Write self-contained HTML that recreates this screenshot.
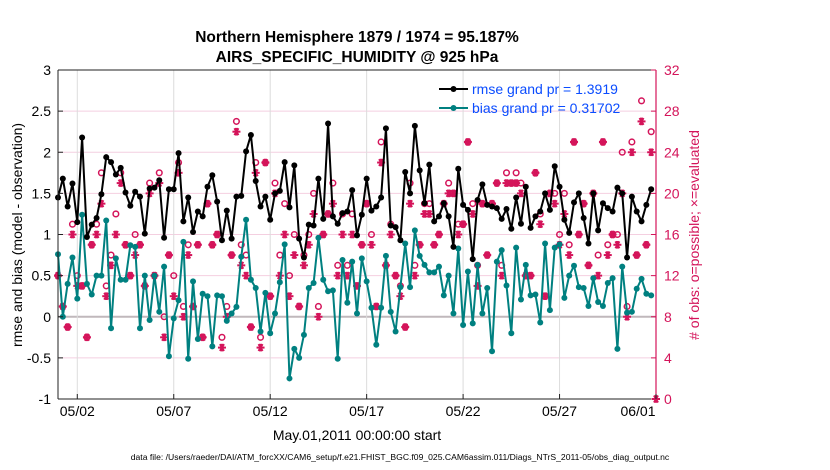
<!DOCTYPE html>
<html><head><meta charset="utf-8">
<style>
body{margin:0;background:#fff;}
svg{display:block;font-family:"Liberation Sans",Arial,sans-serif;}
</style></head>
<body>
<svg id="chart" width="830" height="470" viewBox="0 0 830 470" xmlns="http://www.w3.org/2000/svg">
<text x="357" y="42" text-anchor="middle" font-size="15.5" font-weight="bold">Northern Hemisphere 1879 / 1974 = 95.187%</text>
<text x="357" y="62" text-anchor="middle" font-size="15.5" font-weight="bold">AIRS_SPECIFIC_HUMIDITY @ 925 hPa</text>
<g id="grid"></g>
<g id="series"></g>
<g id="axes"></g>
<text transform="translate(22,235) rotate(-90)" text-anchor="middle" font-size="14">rmse and bias (model - observation)</text>
<text transform="translate(699,235) rotate(-90)" text-anchor="middle" font-size="14" fill="#d4145a"># of obs: o=possible; ×=evaluated</text>
<text x="357" y="440" text-anchor="middle" font-size="14">May.01,2011 00:00:00 start</text>
<text x="400" y="460" text-anchor="middle" font-size="8.6">data file: /Users/raeder/DAI/ATM_forcXX/CAM6_setup/f.e21.FHIST_BGC.f09_025.CAM6assim.011/Diags_NTrS_2011-05/obs_diag_output.nc</text>
<g>
<line x1="439" y1="89" x2="468" y2="89" stroke="#000" stroke-width="2"/>
<circle cx="453.5" cy="89" r="3" fill="#000"/>
<text x="472" y="94" font-size="14" fill="#0a4cff">rmse grand pr = 1.3919</text>
<line x1="439" y1="108" x2="468" y2="108" stroke="#008080" stroke-width="2"/>
<circle cx="453.5" cy="108" r="3" fill="#008080"/>
<text x="472" y="113" font-size="14" fill="#0a4cff">bias grand pr = 0.31702</text>
</g>
</svg>
<script>
const rmse=[1.45,1.68,1.34,1.62,1.15,2.18,0.97,1.12,1.2,1.49,1.94,1.88,1.73,1.81,1.51,1.35,1.52,1.46,1.01,1.56,1.57,1.66,0.96,1.55,1.55,1.99,1.16,1.45,1.03,1.28,1.22,1.58,
1.72,1.4,0.93,1.29,0.95,1.46,1.47,2.01,2.21,1.65,1.34,1.46,1.18,1.5,1.53,1.88,1.33,1.84,0.95,0.72,1.12,1.11,1.68,1.19,2.35,1.22,1.13,1.26,1.28,1.54,0.99,
1.24,1.68,1.29,1.34,1.45,2.29,1.11,1.09,0.93,1.76,1.5,2.32,1.78,1.38,1.85,1.16,1.22,1.38,1.22,0.85,1.8,1.36,1.3,0.7,1.42,1.61,1.36,1.34,1.32,1.19,1.31,
1.07,1.45,1.13,1.58,1.08,1.22,1.28,1.5,1.3,1.83,1.58,1.18,1.02,1.39,1.5,1.2,0.89,1.5,1.05,1.38,1.32,1.28,1.57,1.5,0.72,1.46,1.28,1.16,1.36,1.55];
const bias=[0.76,0,0.4,0.72,0.22,1.24,0.4,0.27,0.5,0.5,1.17,-0.14,0.71,0.45,0.45,0.87,0.85,-0.14,0.5,-0.04,0.5,0.06,0.61,-0.48,-0.02,0.2,0.91,-0.51,0.43,-0.27,0.28,0.25,
-0.36,0.26,0.25,-0.05,0.04,0.12,0.73,1.18,0.45,0.35,-0.18,0.29,-0.2,0.04,0.42,0.88,-0.75,-0.39,-0.5,-0.22,0.35,0.41,0.96,0.45,0.31,0.32,-0.51,0.69,0.17,0.67,0.04,
0.71,0.43,0.11,-0.34,0.11,0.74,0.06,-0.18,0.36,0.89,0.36,1.05,0.74,0.63,0.54,0.54,0.61,0.26,0.5,0.04,0.83,-0.1,0.55,-0.08,0.63,0.04,0.35,-0.42,0.67,0.81,0.38,
-0.2,0.84,0.21,0.63,0.26,0.27,-0.07,0.89,0.08,0.84,0.88,0.23,0.5,0.62,0.36,0.35,0.13,0.47,0.18,0.13,0.41,0.47,-0.39,0.61,0.05,0.06,0.34,0.46,0.28,0.26];
const evaluated=[12,9,7,16,11,11,6,15,16,19,10,13,16,21,15,12,14,15,11,20,12,21,6,14,10,22,8,14,9,15,6,19,
15,16,5,8,14,26,13,12,7,22,5,23,10,20,12,16,10,14,9,13,15,18,8,16,18,19,12,16,12,16,11,
15,19,15,9,23,13,16,12,10,7,19,12,15,18,18,15,16,19,20,20,16,17,25,18,11,19,14,19,21,12,21,
21,21,20,12,12,22,17,10,20,19,15,18,14,25,16,19,13,20,12,25,14,16,15,20,8,24,14,27,15,24];
const possible=[12,9,7,17,12,11,6,15,17,22,11,14,18,22,15,12,16,15,11,21,12,22,8,14,12,23,9,15,9,15,6,19,
15,16,6,9,14,27,15,14,7,23,6,23,10,21,14,19,12,16,9,14,16,20,9,16,18,21,13,18,13,18,11,
15,19,16,9,25,13,17,12,11,7,21,13,15,19,19,15,16,19,21,20,17,17,25,19,13,19,14,19,21,13,22,
21,22,21,12,12,22,18,10,20,20,16,20,15,25,16,19,13,20,14,25,15,16,16,24,9,25,14,29,15,26];
const leftTicks=[-1,-0.5,0,0.5,1,1.5,2,2.5,3];
const leftTickLabels=["-1","-0.5","0","0.5","1","1.5","2","2.5","3"];
const rightTicks=[0,4,8,12,16,20,24,28,32];
const xTickDays=[1,6,11,16,21,26,31];
const xTickLabels=["05/02","05/07","05/12","05/17","05/22","05/27","06/01"];
const stepDays=0.25;

const L=58,R=656,T=70,B=399;
const NS="http://www.w3.org/2000/svg";
const xs=d=>L+(d/31)*(R-L);
const yl=v=>B-(v+1)/4*(B-T);
const yr=c=>B-c/32*(B-T);
function mk(tag,attrs,parent){const e=document.createElementNS(NS,tag);for(const k in attrs)e.setAttribute(k,attrs[k]);parent.appendChild(e);return e;}
const grid=document.getElementById('grid'),ser=document.getElementById('series'),ax=document.getElementById('axes');
mk('rect',{x:L,y:T,width:R-L,height:B-T,fill:'#fff'},grid);
leftTicks.forEach(v=>{const g=mk('line',{x1:L,x2:R,y1:yl(v),y2:yl(v),stroke:v===0?'#c0b8bc':'#f4cfe0','stroke-width':v===0?2:1},grid);

});
xTickDays.forEach(d=>{const g=mk('line',{x1:xs(d),x2:xs(d),y1:T,y2:B,stroke:'#dcdcdc','stroke-width':1},grid);

});

function star(cx,cy,parent){const g=mk('g',{stroke:'#d4145a','stroke-width':2},parent);


[0,60,120].forEach(a=>{const r=a*Math.PI/180,dx=4*Math.cos(r),dy=4*Math.sin(r);mk('line',{x1:cx-dx,y1:cy-dy,x2:cx+dx,y2:cy+dy},g);});
mk('line',{x1:cx,y1:cy-3.8,x2:cx,y2:cy+3.8},g);}
possible.forEach((c,i)=>{const e=mk('circle',{cx:xs(i*stepDays),cy:yr(c),r:2.8,fill:'none',stroke:'#d4145a','stroke-width':1.5},ser);

});
evaluated.forEach((c,i)=>star(xs(i*stepDays),yr(c),ser));
star(R,B,ser);

function line(arr,color,name){const p=mk('polyline',{points:arr.map((v,i)=>xs(i*stepDays)+','+yl(v)).join(' '),fill:'none',stroke:color,'stroke-width':2,'stroke-linejoin':'round'},ser);


arr.forEach((v,i)=>{const c=mk('circle',{cx:xs(i*stepDays),cy:yl(v),r:3,fill:color},ser);

});}
line(bias,'#008080','bias');
line(rmse,'#000000','rmse');

mk('line',{x1:L,x2:R,y1:T,y2:T,stroke:'#222','stroke-width':1},ax);
mk('line',{x1:L,x2:R,y1:B,y2:B,stroke:'#222','stroke-width':1},ax);
mk('line',{x1:L,x2:L,y1:T,y2:B,stroke:'#222','stroke-width':1},ax);
mk('line',{x1:R,x2:R,y1:T,y2:B,stroke:'#d4145a','stroke-width':1.2},ax);
leftTicks.forEach((v,i)=>{mk('line',{x1:L,x2:L+5,y1:yl(v),y2:yl(v),stroke:'#222'},ax);
const t=mk('text',{x:L-7,y:yl(v)+5,'text-anchor':'end','font-size':14},ax);t.textContent=leftTickLabels[i];

});
rightTicks.forEach(c=>{mk('line',{x1:R-5,x2:R,y1:yr(c),y2:yr(c),stroke:'#d4145a'},ax);
const t=mk('text',{x:R+8,y:yr(c)+5,'font-size':14,fill:'#d4145a'},ax);t.textContent=String(c);

});
xTickDays.forEach((d,i)=>{mk('line',{x1:xs(d),x2:xs(d),y1:B,y2:B-5,stroke:'#222'},ax);
const xx=i===xTickDays.length-1?xs(d)-18:xs(d);
const t=mk('text',{x:xx,y:B+17,'text-anchor':'middle','font-size':14},ax);t.textContent=xTickLabels[i];

});
</script>
</body></html>
